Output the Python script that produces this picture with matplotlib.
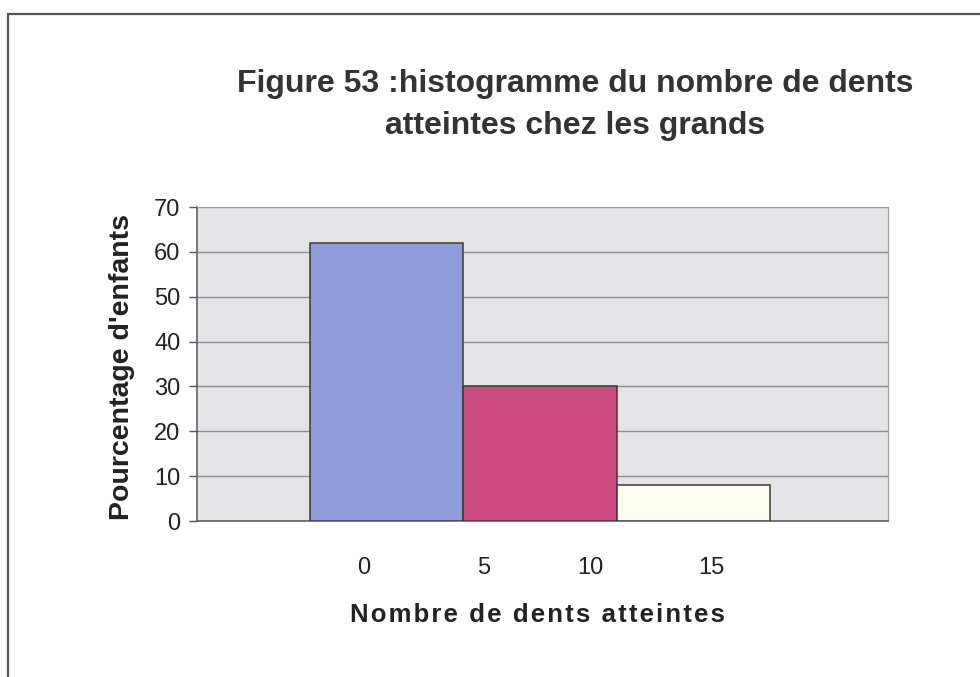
import matplotlib.pyplot as plt
from matplotlib.patches import Rectangle

plt.rcParams["font.family"] = ["Liberation Sans", "DejaVu Sans"]

# values
values = [62, 30, 8]
bar_colors = ["#8F9EDB", "#CC4A80", "#FFFDF0"]
tick_labels = ["0", "5", "10", "15"]
tick_pos = [0.35, 1.13, 1.83, 2.62]
y_ticks = list(range(0, 71, 10))
x_title = "Nombre de dents atteintes"
y_title = "Pourcentage d'enfants"
title = "Figure 53 :histogramme du nombre de dents\natteintes chez les grands"


def spaced(text: str) -> str:
    # the original uses wide letter spacing on the x title
    return "\u200a".join(text)


def main() -> None:
    fig = plt.figure(figsize=(9.8, 6.77), dpi=100)
    fig.patch.set_facecolor("white")

    # outer frame (runs off the right and bottom edges)
    fig.patches.append(Rectangle((8 / 980, -0.05), 1.1, 1 - 14 / 677 + 0.05,
                                 transform=fig.transFigure, fill=False,
                                 edgecolor="#555555", linewidth=1.6))

    ax = fig.add_axes([197 / 980, 1 - 521 / 677, 691 / 980, 314 / 677])
    ax.set_facecolor("#E4E4E6")
    ax.bar(range(len(values)), values, width=1.0, align="edge",
           color=bar_colors, edgecolor="#3A3A3A", linewidth=1.1, zorder=3)

    ax.set_xlim(-0.737, 3.77)
    ax.set_ylim(0, 70)
    ax.set_yticks(y_ticks)
    ax.yaxis.grid(True, color="#8E8E8E", linewidth=1.0, zorder=1)
    ax.set_axisbelow(True)
    ax.set_xticks(tick_pos)
    ax.set_xticklabels(tick_labels, fontsize=17, color="#222222")
    ax.tick_params(axis="x", length=0, pad=26)
    ax.tick_params(axis="y", length=6, width=1, color="#555555", labelsize=17,
                   labelcolor="#222222", pad=6)

    for side in ("top", "right"):
        ax.spines[side].set_color("#9A9A9A")
    for side in ("left", "bottom"):
        ax.spines[side].set_color("#555555")
        ax.spines[side].set_linewidth(1.1)

    ax.set_ylabel(y_title, fontsize=20.5, fontweight="bold", color="#222222")
    ax.yaxis.set_label_coords(-0.09, 0.49)
    ax.set_xlabel(spaced(x_title), fontsize=18.5, fontweight="bold", color="#222222")
    ax.xaxis.set_label_coords(0.493, -0.262)

    fig.text(575 / 980, 1 - 105 / 677, title,
             ha="center", va="center", fontsize=23, fontweight="bold",
             color="#333333", linespacing=1.5)

    fig.savefig("out.png", dpi=100)
    plt.close(fig)


if __name__ == "__main__":
    main()
